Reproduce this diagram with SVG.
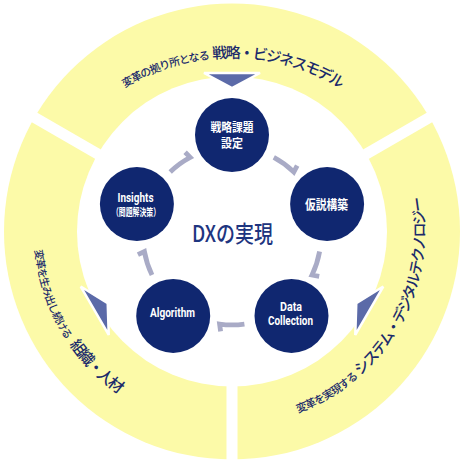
<svg xmlns="http://www.w3.org/2000/svg" width="465" height="465" viewBox="0 0 465 465">
<style>
.ring{fill:#fcfaa8}
.gap{stroke:#fff;stroke-width:11}
.tri{fill:#5b6aa8;stroke:#fff;stroke-width:2.5;stroke-linejoin:miter}
.node{fill:#102770}
.nt{fill:#fff;font-family:"Noto Sans CJK JP",sans-serif;font-weight:700;text-anchor:middle}
.ne{fill:#fff;font-family:Roboto,"Noto Sans CJK JP",sans-serif;font-weight:700;text-anchor:middle}
.arr{fill:none;stroke:#a9abc6;stroke-width:4.8;stroke-linejoin:miter;stroke-linecap:butt}
.rt{fill:#1b2b6b;font-family:"Noto Sans CJK JP",sans-serif;font-weight:500;text-anchor:middle}
.sm{letter-spacing:-1px}
.bg{letter-spacing:-1.8px}
.ct{fill:#1e3580;font-family:"Noto Sans CJK JP",sans-serif;font-weight:500;text-anchor:middle}
</style>
<defs>
<path id="pTop" d="M73.4,131.9 A207,207 0 0 1 390.6,131.9"/>
<path id="pLeft" d="M45.9,163.8 A198,198 0 0 0 197.6,426.5"/>
<path id="pRight" d="M265.5,421.6 A193,193 0 0 0 413.4,165.5"/>
<polygon id="tri" points="-28,-158.5 28,-158.5 0,-143.5"/>
</defs>

<g id="ring">
<circle cx="232" cy="231.5" r="228" class="ring"/>
<g transform="translate(232,231.5)">
<line x1="0" y1="0" x2="0" y2="240" class="gap"/>
<line x1="0" y1="0" x2="0" y2="240" class="gap" transform="rotate(120)"/>
<line x1="0" y1="0" x2="0" y2="240" class="gap" transform="rotate(240)"/>
</g>
<circle cx="232" cy="231.5" r="155" fill="#fff"/>
</g>

<g id="ring-labels">
<text class="rt"><textPath href="#pTop" startOffset="50%"><tspan class="sm" font-size="11">変革の拠り所となる</tspan><tspan class="bg" font-size="15" dx="3.5">戦略・ビジネスモデル</tspan></textPath></text>
<text class="rt"><textPath href="#pLeft" startOffset="50%"><tspan class="sm" font-size="10.5">変革を生み出し続ける</tspan><tspan class="bg" font-size="15.5" dx="6.5">組織・人材</tspan></textPath></text>
<text class="rt"><textPath href="#pRight" startOffset="50%"><tspan class="sm" font-size="11">変革を実現する</tspan><tspan class="bg" font-size="15" dx="3">システム・デジタルテクノロジー</tspan></textPath></text>
</g>

<g id="pointers" transform="translate(232,231.5)">
<use href="#tri" class="tri"/>
<use href="#tri" class="tri" transform="rotate(-120)"/>
<use href="#tri" class="tri" transform="rotate(120)"/>
</g>

<g id="connectors">
<path class="arr" d="M273.8,157.4 A89,89 0 0 1 293.8,172 L297.2,165.6"/>
<path class="arr" d="M319.6,251.5 A89,89 0 0 1 312,275 L319.2,276.3"/>
<path class="arr" d="M244.4,324.1 A89,89 0 0 1 219.6,324.1 L220.6,331.3"/>
<path class="arr" d="M152,275 A89,89 0 0 1 144.4,251.5 L137.9,254.7"/>
<path class="arr" d="M170.2,172 A89,89 0 0 1 190.2,157.4 L185.1,152.2"/>
</g>

<g id="n-strategy">
<circle cx="232" cy="135" r="37" class="node"/>
<text class="nt" x="232" y="132" font-size="12" textLength="43" lengthAdjust="spacingAndGlyphs">戦略課題</text>
<text class="nt" x="232" y="148" font-size="12" textLength="22" lengthAdjust="spacingAndGlyphs">設定</text>
</g>
<g id="n-hypothesis">
<circle cx="327.1" cy="204.1" r="37" class="node"/>
<text class="nt" x="326.5" y="209" font-size="13" textLength="43" lengthAdjust="spacingAndGlyphs">仮説構築</text>
</g>
<g id="n-data">
<circle cx="291.5" cy="315.9" r="37" class="node"/>
<text class="ne" x="291" y="310.5" font-size="13.5" textLength="22" lengthAdjust="spacingAndGlyphs">Data</text>
<text class="ne" x="290.5" y="325" font-size="13.5" textLength="45" lengthAdjust="spacingAndGlyphs">Collection</text>
</g>
<g id="n-algorithm">
<circle cx="173.2" cy="315.9" r="37" class="node"/>
<text class="ne" x="172.5" y="317" font-size="13.5" textLength="45" lengthAdjust="spacingAndGlyphs">Algorithm</text>
</g>
<g id="n-insights">
<circle cx="136.9" cy="204.1" r="37" class="node"/>
<text class="ne" x="135.5" y="201.5" font-size="13.5" textLength="36" lengthAdjust="spacingAndGlyphs">Insights</text>
<text class="nt" x="136" y="216" font-size="10.5" textLength="48" lengthAdjust="spacingAndGlyphs">（問題解決策）</text>
</g>

<g id="center">
<text class="ct" x="232.5" y="242" font-size="23" textLength="81" lengthAdjust="spacingAndGlyphs">DXの実現</text>
</g>
</svg>
